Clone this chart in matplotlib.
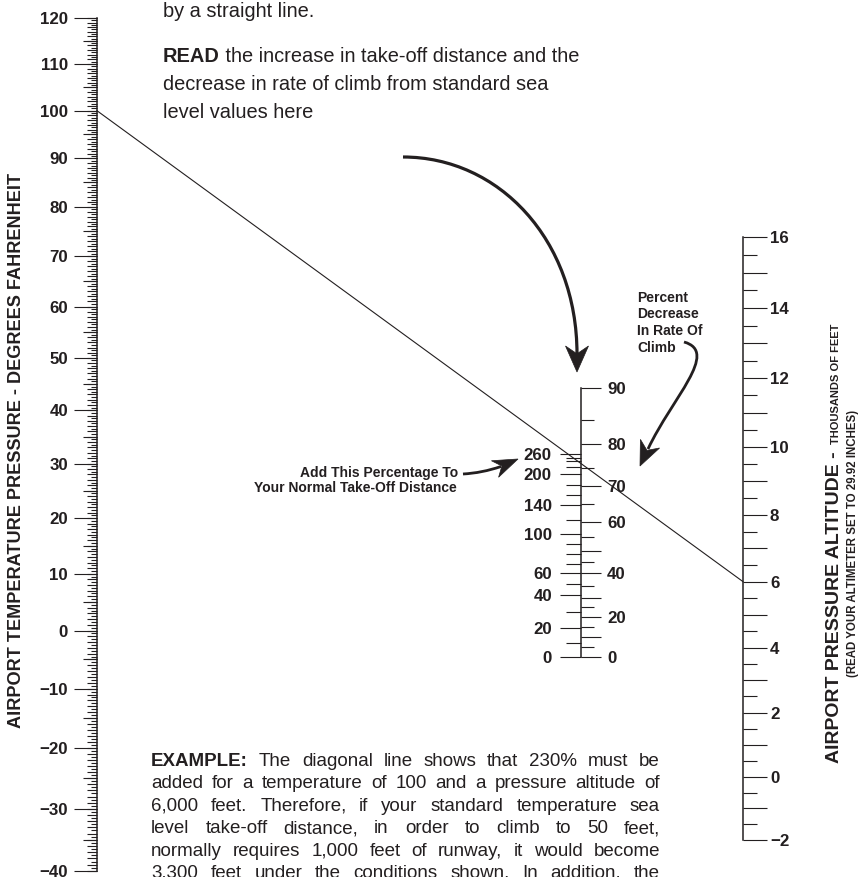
import numpy as np
import matplotlib
matplotlib.use('Agg')
import matplotlib.pyplot as plt
from matplotlib.patches import ConnectionPatch, PathPatch, Polygon
from matplotlib.path import Path
from matplotlib.ticker import FixedLocator, MultipleLocator, FuncFormatter

# 字体与颜色：Helvetica 风格的粗体刻度字
plt.rcParams['font.family'] = ['Liberation Sans', 'DejaVu Sans']
plt.rcParams['font.weight'] = 'bold'
INK = '#231f20'

# ---------------------- 1. 图上读出的数值 ----------------------
temp_labels = [-40, -30, -20, -10, 0, 10, 20, 30, 40, 50, 60, 70, 80, 90, 100, 110, 120]  # 华氏度
alt_labels = [-2, 0, 2, 4, 6, 8, 10, 12, 14, 16]  # 千英尺
takeoff_labels = [0, 20, 40, 60, 100, 140, 200, 260]
takeoff_minor = [10, 30, 50, 70, 80, 90, 120, 160, 180, 220, 240, 250]
climb_labels = [0, 20, 40, 60, 70, 80, 90]
climb_long = [10, 30, 50]
climb_minor = [5, 15, 25, 35, 45, 55, 65, 75, 85]

# 中间刻度线上各刻度对应的密度比
takeoff_cal_pct = [0, 20, 40, 60, 100, 140, 200, 260]
takeoff_cal_sigma = [1.000, 0.957, 0.911, 0.881, 0.830, 0.795, 0.758, 0.736]
climb_cal_pct = [0, 20, 30, 40, 50, 60, 70, 75, 80, 85, 90]
climb_cal_sigma = [1.000, 0.941, 0.914, 0.881, 0.852, 0.815, 0.772, 0.751, 0.724, 0.699, 0.666]

example_temp = 100  # 示例：温度
example_alt = 6     # 示例：气压高度

top_lines = ['decrease in rate of climb from standard sea', 'level values here']
example_lines = [
    'EXAMPLE: The diagonal line shows that 230% must be',
    'added for a temperature of 100 and a pressure altitude of',
    '6,000 feet. Therefore, if your standard temperature sea',
    'level take-off distance, in order to climb to 50 feet,',
    'normally requires 1,000 feet of runway, it would become',
    '3,300 feet under the conditions shown. In addition, the',
]

# ---------------------- 2. 画布与辅助函数 ----------------------
W, H = 860, 877
fig = plt.figure(figsize=(W / 100, H / 100), dpi=100)
fig.patch.set_facecolor('white')

ax = fig.add_axes([0, 0, 1, 1])  # 像素坐标的底层，用来放文字和箭头
ax.set_xlim(0, W)
ax.set_ylim(H, 0)
ax.axis('off')

TICK_SIZE = 12.2


def pt(px):
    return px * 72 / 100


def signed(v):
    return f'{v:g}'.replace('-', '\u2212')


def scale_axes(x, top, bottom, side):
    """一根竖直刻度线：宽 1 像素的坐标轴，只留 side 那条边框"""
    x0 = x if side == 'left' else x - 1
    a = fig.add_axes([x0 / W, 1 - bottom / H, 1 / W, (bottom - top) / H])
    a.patch.set_visible(False)
    for name, sp in a.spines.items():
        sp.set_visible(name == side)
        sp.set_color(INK)
        sp.set_linewidth(1.1)
    a.xaxis.set_visible(False)
    a.set_xlim(0, 1)
    if side == 'right':
        a.yaxis.tick_right()
    else:
        a.yaxis.tick_left()
    return a


def ticks(a, which, length, pad=2, size=TICK_SIZE):
    a.tick_params(axis='y', which=which, direction='out', length=pt(length), width=0.8,
                  color=INK, pad=pt(pad), labelsize=size, labelcolor=INK)


# ---------------------- 3. 温度刻度（对数绝对温度） ----------------------
t_fwd = lambda t: np.log(np.asarray(t, float) + 459.67)
t_inv = lambda u: np.exp(np.asarray(u, float)) - 459.67

ax_t = scale_axes(97, 18, 871, 'left')
ax_t.set_yscale('function', functions=(t_fwd, t_inv))
ax_t.set_ylim(min(temp_labels), max(temp_labels))
ax_t.set_yticks(temp_labels, labels=[signed(v) for v in temp_labels])
ax_t.yaxis.set_minor_locator(MultipleLocator(5))
ticks(ax_t, 'major', 23, pad=6)
ticks(ax_t, 'minor', 14)

ax_t2 = scale_axes(97, 18, 871, 'left')
ax_t2.spines['left'].set_visible(False)
ax_t2.set_yscale('function', functions=(t_fwd, t_inv))
ax_t2.set_ylim(min(temp_labels), max(temp_labels))
ax_t2.yaxis.set_major_locator(MultipleLocator(1))
ax_t2.yaxis.set_minor_locator(MultipleLocator(0.5))
ticks(ax_t2, 'major', 10)
ticks(ax_t2, 'minor', 6)
ax_t2.tick_params(axis='y', labelleft=False)

# ---------------------- 4. 气压高度刻度 ----------------------
a_fwd = lambda h: -np.log(1 - 6.8756e-3 * np.asarray(h, float))
a_inv = lambda u: (1 - np.exp(-np.asarray(u, float))) / 6.8756e-3

ax_a = scale_axes(743, 237, 840, 'right')
ax_a.set_yscale('function', functions=(a_fwd, a_inv))
ax_a.set_ylim(min(alt_labels), max(alt_labels))
ax_a.yaxis.set_major_locator(MultipleLocator(1))
ax_a.yaxis.set_major_formatter(FuncFormatter(
    lambda v, _: signed(int(round(v))) if int(round(v)) in alt_labels else ''))
ax_a.yaxis.set_minor_locator(MultipleLocator(0.5))
ticks(ax_a, 'major', 24, pad=3)
ticks(ax_a, 'minor', 14)

# ---------------------- 5. 中间刻度（起飞距离 / 爬升率） ----------------------
MID_X, MID_BASE, MID_K = 581, 657, 661  # 密度比 1 的位置与 ln(σ) 的像素比例


def mid_top(sigma):
    return MID_BASE + MID_K * np.log(sigma)


def interp_scale(pct, sigma):
    fwd = lambda v: -np.log(np.interp(np.asarray(v, float), pct, sigma))
    inv = lambda u: np.interp(np.exp(-np.asarray(u, float)), sigma[::-1], pct[::-1])
    return fwd, inv


ax_c = scale_axes(MID_X, mid_top(climb_cal_sigma[-1]), MID_BASE, 'right')
ax_c.set_yscale('function', functions=interp_scale(climb_cal_pct, climb_cal_sigma))
ax_c.set_ylim(0, max(climb_cal_pct))
ax_c.yaxis.set_major_locator(FixedLocator(sorted(climb_labels + climb_long)))
ax_c.yaxis.set_major_formatter(FuncFormatter(
    lambda v, _: f'{v:g}' if int(round(v)) in climb_labels else ''))
ax_c.yaxis.set_minor_locator(FixedLocator(climb_minor))
ticks(ax_c, 'major', 20, pad=6)
ticks(ax_c, 'minor', 13)

ax_to = scale_axes(MID_X, mid_top(takeoff_cal_sigma[-1]), MID_BASE, 'left')
ax_to.spines['left'].set_visible(False)
ax_to.set_yscale('function', functions=interp_scale(takeoff_cal_pct, takeoff_cal_sigma))
ax_to.set_ylim(0, max(takeoff_cal_pct))
ax_to.set_yticks(takeoff_labels, labels=[f'{v:g}' for v in takeoff_labels])
ax_to.yaxis.set_minor_locator(FixedLocator(takeoff_minor))
ticks(ax_to, 'major', 21, pad=8)
ticks(ax_to, 'minor', 15)

# 示例对角线：温度 100 与高度 6 连线
fig.add_artist(ConnectionPatch(xyA=(0, example_temp), coordsA='data', axesA=ax_t,
                               xyB=(1, example_alt), coordsB='data', axesB=ax_a,
                               color=INK, lw=0.8))

# ---------------------- 6. 坐标轴标题 ----------------------
ax.text(17, 450, 'AIRPORT TEMPERATURE PRESSURE - DEGREES FAHRENHEIT', rotation=90,
        ha='center', va='center', fontsize=13.1, color=INK)
alt_title = ax.text(839, 763, 'AIRPORT PRESSURE ALTITUDE -', rotation=90, rotation_mode='anchor',
                    ha='left', va='baseline', fontsize=14, color=INK)
ax.annotate('THOUSANDS OF FEET', xy=(839, 1), xycoords=('data', alt_title), xytext=(0, 5),
            textcoords='offset points', rotation=90, rotation_mode='anchor',
            ha='left', va='baseline', fontsize=8, color=INK)
ax.text(853, 543, '(READ YOUR ALTIMETER SET TO 29.92 INCHES)', rotation=90,
        ha='center', va='center', fontsize=8.3, color=INK)

# ---------------------- 7. 说明文字 ----------------------
BODY = 14.4
ax.text(163, 17, 'by a straight line.', fontsize=BODY, fontweight='normal', color=INK, va='baseline')
read = ax.text(163, 62, 'READ', fontsize=BODY, color=INK, va='baseline')
ax.annotate(' the increase in take-off distance and the', xy=(1, 62), xycoords=(read, 'data'),
            va='baseline', fontsize=BODY, fontweight='normal', color=INK)
for i, line in enumerate(top_lines):
    ax.text(163, 90.5 + 28 * i, line, fontsize=BODY, fontweight='normal', color=INK, va='baseline')

for i, line in enumerate(['Percent', 'Decrease', 'In Rate Of', 'Climb']):
    ax.text(637, 302 + 16.5 * i, line, fontsize=10, color=INK, va='baseline')
ax.text(458, 477, 'Add This Percentage To', fontsize=10, color=INK, ha='right', va='baseline')
ax.text(457, 492, 'Your Normal Take-Off Distance', fontsize=10, color=INK, ha='right', va='baseline')

# 两端对齐的示例段落
renderer = fig.canvas.get_renderer()


def justify(words, y, x0, x1, size, bold_words=0):
    items = [ax.text(x0, y, w, fontsize=size, color=INK, va='baseline',
                     fontweight='bold' if i < bold_words else 'normal')
             for i, w in enumerate(words)]
    widths = [t.get_window_extent(renderer).width for t in items]
    gap = (x1 - x0 - sum(widths)) / (len(items) - 1)
    x = x0
    for t, w in zip(items, widths):
        t.set_x(x)
        x += w + gap


for i, line in enumerate(example_lines):
    justify(line.split(), 766 + 22.4 * i, 151, 660, 13.5, bold_words=1 if i == 0 else 0)


# ---------------------- 8. 弯曲箭头 ----------------------
def arrow(points, codes, tip, back, width, lw):
    ax.add_patch(PathPatch(Path(points, codes), fc='none', ec=INK, lw=lw, capstyle='butt'))
    tip, back = np.asarray(tip, float), np.asarray(back, float)
    u = (tip - back) / np.hypot(*(tip - back))
    n = np.array([-u[1], u[0]])
    notch = back + 0.3 * (tip - back)
    ax.add_patch(Polygon([tip, back + n * width / 2, notch, back - n * width / 2],
                         closed=True, fc=INK, ec=INK, lw=0.5))


C4 = [Path.MOVETO, Path.CURVE4, Path.CURVE4, Path.CURVE4]
C3 = [Path.MOVETO, Path.CURVE3, Path.CURVE3]
arrow([(403, 157), (499, 157), (577, 240), (577, 354)], C4, (577, 372), (577, 346), 23, 2.3)
arrow([(684, 342), (720, 352), (672, 398), (648, 449)], C4, (640, 466), (650, 443.7), 21, 2.0)
arrow([(463, 474), (482, 473), (501, 466.5)], C3, (518, 459), (495, 469), 18, 2.0)

fig.savefig('out.png', dpi=100)
